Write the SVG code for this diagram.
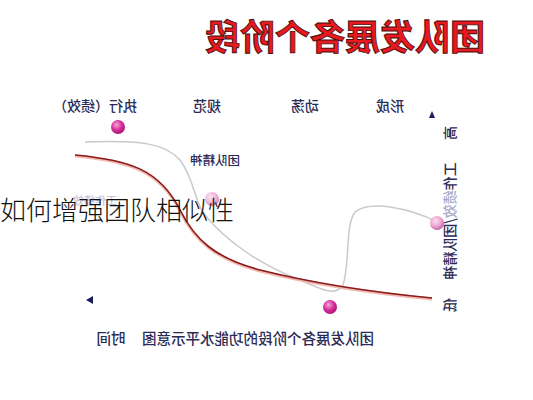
<svg xmlns="http://www.w3.org/2000/svg" width="533" height="400" viewBox="0 0 533 400">
<style>
.t{font-family:"Noto Sans CJK SC","Noto Sans CJK JP",sans-serif;fill:#2b2b55;font-size:14px;font-weight:500;text-anchor:middle}
.title{font-family:"Noto Sans CJK SC",sans-serif;font-size:35px;font-weight:700;fill:#e8191f;stroke:#4a0c0c;stroke-width:0.9;text-anchor:middle}
.over{font-family:"Noto Sans CJK SC",sans-serif;font-size:26px;font-weight:300;fill:#111;text-anchor:start}
</style>
<defs>
<radialGradient id="mag" cx="0.4" cy="0.35" r="0.7">
<stop offset="0" stop-color="#f7a8dc"/><stop offset="0.5" stop-color="#d8349e"/><stop offset="1" stop-color="#a3106e"/>
</radialGradient>
<radialGradient id="pink" cx="0.4" cy="0.35" r="0.7">
<stop offset="0" stop-color="#fbe0f0"/><stop offset="0.6" stop-color="#eaa0cf"/><stop offset="1" stop-color="#c0589c"/>
</radialGradient>
</defs>
<rect width="533" height="400" fill="#fff"/>
<g id="title"><text class="title" transform="translate(345,50) scale(-1,1)">团队发展各个阶段</text></g>
<g id="stage-labels">
<text class="t" transform="translate(390,111) scale(-1,1)">形成</text>
<text class="t" transform="translate(305,111) scale(-1,1)">动荡</text>
<text class="t" transform="translate(207,111) scale(-1,1)">规范</text>
<text class="t" transform="translate(95,111) scale(-1,1)">执行（绩效）</text>
</g>
<g id="connectors">
<path d="M85,142 C140,140 165,143 180,160 C195,180 195,205 205,215 C225,240 260,265 300,280 C320,288 335,298 343,285 C350,265 345,225 355,212 C370,200 410,208 437,222" fill="none" stroke="#c9c9cf" stroke-width="1.5"/>
<path d="M75,156 C130,161 160,171 180,211 C195,241 215,259 260,271 C320,286 380,294 432,299" fill="none" stroke="#f2b8b0" stroke-width="3"/>
<path d="M75,155 C130,160 160,170 180,210 C195,240 215,258 260,270 C320,285 380,293 432,298" fill="none" stroke="#8a1a1a" stroke-width="1.6"/>
<polygon points="432,111 429,118 435,118" fill="#1c1c5a"/>
<polygon points="86,300 93,296 93,304" fill="#1c1c5a"/>
</g>
<g id="dots">
<circle cx="118" cy="127" r="7" fill="url(#mag)"/>
<circle cx="212" cy="199" r="7" fill="url(#pink)" opacity="0.8"/>
<circle cx="330" cy="307" r="7" fill="url(#mag)"/>
<circle cx="437" cy="223" r="7" fill="url(#pink)"/>
</g>
<g id="labels">
<text class="t" style="font-size:12.5px" transform="translate(215,165) scale(-1,1)">团队精神</text>
<text class="t" style="fill:#c4c4dc;font-size:11px" transform="translate(95,205) scale(-1,1)">工作绩效</text>
</g>
<g id="axis-y">
<text class="t" transform="translate(455,133) scale(-1,1) rotate(90)">高</text>
<text class="t" transform="translate(455,221) scale(-1,1) rotate(90)">工作<tspan fill="#a8a8cc">绩效</tspan>/团队精神</text>
<text class="t" transform="translate(455,305) scale(-1,1) rotate(90)">低</text>
</g>
<g id="caption">
<text class="t" style="font-size:14.5px" transform="translate(258,344) scale(-1,1)">团队发展各个阶段的功能水平示意图</text>
<text class="t" style="font-size:14.5px" transform="translate(111,344) scale(-1,1)">时间</text>
</g>
<g id="overlay"><text class="over" x="0" y="220">如何增强团队相似性</text></g>
</svg>
